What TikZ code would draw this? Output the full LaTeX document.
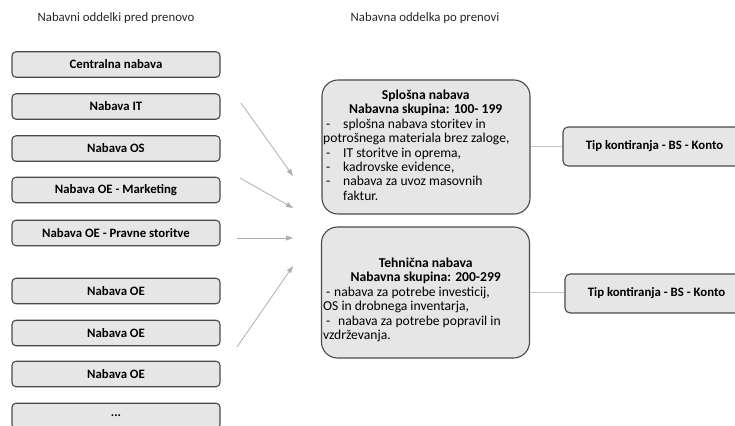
\documentclass[tikz,border=0pt]{standalone}
\usepackage{fontspec}
\setmainfont{Carlito}
\usetikzlibrary{arrows.meta,calc,decorations.pathmorphing}
\definecolor{boxfill}{HTML}{E6E6E6}
\definecolor{boxline}{HTML}{4A4A4A}
\definecolor{arrowgray}{HTML}{AFAFAF}
\definecolor{linkgray}{HTML}{C4C4C4}
\definecolor{spellred}{HTML}{E04040}
\newcommand\tipfont{\fontsize{12.8}{14}\selectfont\bfseries}
\newlength\tiptotal
\newlength\tippre
\newlength\tipword
\tikzset{
  dept/.style={draw=boxline, fill=boxfill, line width=1.1pt, rounded corners=4pt,
    minimum width=208pt, minimum height=25.5pt, inner sep=0pt,
    font=\fontsize{12.8}{14}\selectfont\bfseries},
  groupbox/.style={draw=boxline, fill=boxfill, line width=1.1pt, rounded corners=16pt,
    minimum width=208pt, inner sep=0pt},
  grouptext/.style={anchor=base west, inner sep=0pt, align=left,
    font=\fontsize{13.6}{14.4}\selectfont},
  tipbox/.style={draw=boxline, fill=boxfill, line width=1.1pt, rounded corners=5pt,
    minimum width=183pt, minimum height=39pt, inner sep=0pt, font=\tipfont},
  heading/.style={inner sep=0pt, font=\fontsize{12.8}{14}\selectfont, text=black!85},
  feed/.style={draw=arrowgray, line width=0.8pt, -{Triangle[length=7pt,width=5pt]}},
  link/.style={draw=linkgray, line width=0.8pt},
  spellmark/.style={draw=spellred, line width=0.35pt,
    decorate, decoration={snake, amplitude=0.6pt, segment length=2.4pt}},
}
\newcommand\itemdash[1]{\makebox[#1][l]{\hspace{3pt}-}}
\begin{document}
\begin{tikzpicture}[x=1pt,y=-1pt]
\useasboundingbox (0,0) rectangle (735,425);
\clip (0,0) rectangle (735,425);

% column headings
\node[heading] (hleft) at (116,18) {Nabavni oddelki pred prenovo};
\node[heading] (hright) at (425,18) {Nabavna oddelka po prenovi};

% departments before the reorganisation
\node[dept] (d1) at (116,64.5) {Centralna nabava};
\node[dept] (d2) at (116,106.5) {Nabava IT};
\node[dept] (d3) at (116,148.5) {Nabava OS};
\node[dept] (d4) at (116,190) {Nabava OE - Marketing};
\node[dept] (d5) at (116,233) {Nabava OE - Pravne storitve};
\node[dept] (d6) at (116,291) {Nabava OE};
\node[dept] (d7) at (116,333) {Nabava OE};
\node[dept] (d8) at (116,374) {Nabava OE};
\node[dept] (d9) at (116,416) {...};

% the two departments after the reorganisation
\node[groupbox, minimum height=134pt] (gen) at (426,147) {};
\node[grouptext] (gentext) at (323,99.5) {\parbox[t]{205pt}{%
  \centering\bfseries Splošna nabava\\Nabavna skupina: 100- 199\par
  \raggedright\mdseries
  \itemdash{20pt}splošna nabava storitev in\\
  potrošnega materiala brez zaloge,\\
  \itemdash{20pt}IT storitve in oprema,\\
  \itemdash{20pt}kadrovske evidence,\\
  \itemdash{20pt}nabava za uvoz masovnih\\
  \hspace*{20pt}faktur.}};

\node[groupbox, minimum height=131pt] (tech) at (425.5,292.5) {};
\node[grouptext] (techtext) at (323,267.5) {\parbox[t]{205pt}{%
  \centering\bfseries Tehnična nabava\\Nabavna skupina: 200-299\par
  \raggedright\mdseries
  \itemdash{11pt}nabava za potrebe investicij,\\
  OS in drobnega inventarja,\\
  \itemdash{15pt}nabava za potrebe popravil in\\
  vzdrževanja.}};

% account assignment boxes
\node[tipbox] (tip1) at (654.5,146.5) {Tip kontiranja - BS - Konto};
\node[tipbox] (tip2) at (656.5,293.5) {Tip kontiranja - BS - Konto};

% wavy spell-check underline below "kontiranja"
\settowidth\tiptotal{\tipfont Tip kontiranja - BS - Konto}
\settowidth\tippre{\tipfont Tip }
\settowidth\tipword{\tipfont kontiranja}
\foreach \t in {tip1,tip2}{
  \draw[spellmark] ($(\t.center)+(-0.5\tiptotal+\tippre,6.5)$) -- ++(\tipword,0);
}

\draw[link] (gen.east |- 0,146) -- (tip1.west |- 0,146);
\draw[link] (tech.east |- 0,292) -- (tip2.west |- 0,292);

% arrows from the old departments into the new ones
\coordinate (s1) at (241,103);  \coordinate (e1) at (293,176);
\coordinate (s2) at (240,178);  \coordinate (e2) at (293,208);
\coordinate (s3) at (237,238);  \coordinate (e3) at (293,238);
\coordinate (s4) at (237,347);  \coordinate (e4) at (293,266);
\draw[feed] (s1) -- (e1);
\draw[feed] (s2) -- (e2);
\draw[feed] (s3) -- (e3);
\draw[feed] (s4) -- (e4);
\end{tikzpicture}
\end{document}
